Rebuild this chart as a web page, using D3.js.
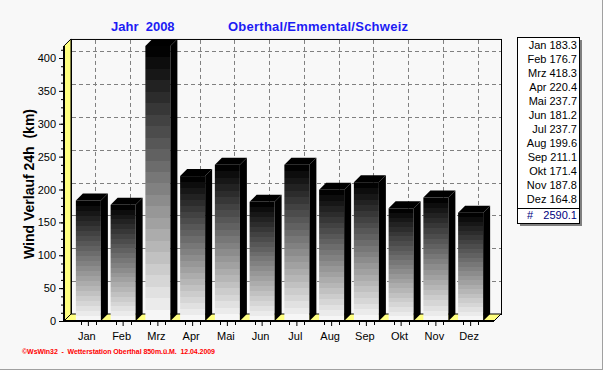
<!DOCTYPE html>
<html>
<head>
<meta charset="utf-8">
<script src="https://cdn.jsdelivr.net/npm/d3@7"></script>
<style>
  html, body { margin:0; padding:0; background:#f8f8f8; }
  svg { display:block; font-family:"Liberation Sans", Arial, sans-serif; }
</style>
</head>
<body>
<svg id="chart" width="603" height="370"></svg>
<script>
// data
const months = ["Jan","Feb","Mrz","Apr","Mai","Jun","Jul","Aug","Sep","Okt","Nov","Dez"];
const values = [183.3,176.7,418.3,220.4,237.7,181.2,237.7,199.6,211.1,171.4,187.8,164.8];
const yTicks = [0,50,100,150,200,250,300,350,400];
const totalLabel = "2590.1";
const titleLeft  = "Jahr  2008";
const titleRight = "Oberthal/Emmental/Schweiz";
const yLabel = "Wind Verlauf 24h  (km)";
const footer = "\u00a9WsWin32  -  Wetterstation Oberthal 850m.\u00fc.M.  12.04.2009";

const svg = d3.select("#chart"),
      W = 603, H = 370,
      D = 7,                       // 3d depth offset
      X0 = 64, X1 = 494,           // front plane
      yBase = 321;

const yellow = "#ffff80";

svg.append("rect").attr("width", W).attr("height", H).attr("fill", "#f8f8f8");
// window edges
svg.append("line").attr("x1", 0).attr("x2", W).attr("y1", H - 0.5).attr("y2", H - 0.5).attr("stroke", "#a0a0a0");
svg.append("line").attr("x1", W - 0.5).attr("x2", W - 0.5).attr("y1", 0).attr("y2", H).attr("stroke", "#a0a0a0");

const x = d3.scaleBand()
    .domain(months)
    .range([71, 488])
    .paddingInner(0.28)
    .paddingOuter(0.14);

const y = d3.scaleLinear()
    .domain([0, 400])
    .range([yBase, 58]);

const bw = x.bandwidth();
const yTop = y(d3.max(values));

// gradient for bar fronts (stepped like the original)
const defs = svg.append("defs");
const grad = defs.append("linearGradient")
    .attr("id", "barGrad")
    .attr("x1", 0).attr("y1", 0).attr("x2", 0).attr("y2", 1);
const steps = 24;
for (let i = 0; i < steps; i++) {
  const g = Math.round(2 + i * (246 - 2) / (steps - 1));
  const c = d3.rgb(g, g, g);
  grad.append("stop").attr("offset", i / steps).attr("stop-color", c);
  grad.append("stop").attr("offset", (i + 1) / steps).attr("stop-color", c);
}

// back wall
svg.append("rect")
    .attr("x", X0 + D + 0.5).attr("y", yTop - D + 0.5)
    .attr("width", X1 - X0).attr("height", yBase - yTop)
    .attr("fill", "#f8f8f8")
    .attr("stroke", "#000");

// grid on back wall
const grid = svg.append("g")
    .attr("stroke", "#808080")
    .attr("stroke-dasharray", "4,3");

grid.selectAll("line.h")
  .data(yTicks.filter(v => v > 0)).enter().append("line")
    .attr("class", "h")
    .attr("x1", X0 + D + 1).attr("x2", X1 + D)
    .attr("y1", d => Math.round(y(d)) - D + 0.5)
    .attr("y2", d => Math.round(y(d)) - D + 0.5);

grid.selectAll("line.v")
  .data(months).enter().append("line")
    .attr("class", "v")
    .attr("x1", d => Math.round(x(d) + bw / 2) + D + 0.5)
    .attr("x2", d => Math.round(x(d) + bw / 2) + D + 0.5)
    .attr("y1", yTop - D + 1).attr("y2", yBase - D);

// left wall
svg.append("polygon")
    .attr("points", [[X0, yBase], [X0, yTop], [X0 + D, yTop - D], [X0 + D, yBase - D]].join(" "))
    .attr("fill", yellow)
    .attr("stroke", "#000")
    .attr("stroke-width", 1);

// floor
svg.append("polygon")
    .attr("points", [[X0, yBase], [X1, yBase], [X1 + D, yBase - D], [X0 + D, yBase - D]].join(" "))
    .attr("fill", yellow)
    .attr("stroke", "#000")
    .attr("stroke-width", 1);

// bars
const bars = svg.append("g").selectAll("g")
  .data(months.map((m, i) => ({ m, v: values[i] })))
  .enter().append("g");

bars.append("rect")
    .attr("x", d => x(d.m))
    .attr("y", d => y(d.v))
    .attr("width", bw)
    .attr("height", d => yBase - y(d.v))
    .attr("fill", "url(#barGrad)");

// side face
bars.append("polygon")
    .attr("points", d => {
      const xr = x(d.m) + bw, yt = y(d.v);
      return [[xr, yt], [xr + D, yt - D], [xr + D, yBase - D], [xr, yBase]].join(" ");
    })
    .attr("fill", "#000");

// top face
bars.append("polygon")
    .attr("points", d => {
      const xl = x(d.m), yt = y(d.v);
      return [[xl, yt], [xl + bw, yt], [xl + bw + D, yt - D], [xl + D, yt - D]].join(" ");
    })
    .attr("fill", "#000");

// axis lines
svg.append("line")
    .attr("x1", X0).attr("x2", X0)
    .attr("y1", yTop).attr("y2", yBase + 1)
    .attr("stroke", "#000").attr("stroke-width", 2);
svg.append("line")
    .attr("x1", X0 - 1).attr("x2", X1)
    .attr("y1", yBase).attr("y2", yBase)
    .attr("stroke", "#000").attr("stroke-width", 2);

// y axis ticks
const yMinor = svg.append("g")
    .attr("transform", `translate(${X0 - 1},0)`)
    .call(d3.axisLeft(y).tickValues(d3.range(0, 413, 12.5)).tickSize(2).tickFormat(""));
yMinor.select(".domain").remove();

const yAxis = svg.append("g")
    .attr("transform", `translate(${X0 - 1},0)`)
    .call(d3.axisLeft(y).tickValues(yTicks).tickSize(4).tickPadding(3));
yAxis.select(".domain").remove();
yAxis.selectAll("text")
    .attr("fill", "#000")
    .style("font-size", "11px")
    .style("font-family", "'Liberation Sans', Arial, sans-serif");

// x axis ticks
const xAxis = svg.append("g")
    .attr("transform", `translate(0,${yBase + 1})`)
    .call(d3.axisBottom(x).tickSize(4).tickPadding(6));
xAxis.select(".domain").remove();
xAxis.selectAll("text")
    .attr("fill", "#000")
    .attr("dx", -1.5)
    .style("font-size", "11px")
    .style("font-family", "'Liberation Sans', Arial, sans-serif");

svg.append("g").selectAll("line")
  .data(months.flatMap(m => [-7.5, 7.5].map(o => ({ m, o })))).enter().append("line")
    .attr("x1", d => Math.round(x(d.m) + bw / 2 + d.o) + 0.5)
    .attr("x2", d => Math.round(x(d.m) + bw / 2 + d.o) + 0.5)
    .attr("y1", yBase + 1).attr("y2", yBase + 4)
    .attr("stroke", "#000");

// y label
svg.append("text")
    .attr("transform", "translate(34,184) rotate(-90)")
    .attr("text-anchor", "middle")
    .style("font-size", "14px")
    .style("font-weight", "bold")
    .style("white-space", "pre")
    .text(yLabel);

// titles
svg.append("text")
    .attr("x", 111).attr("y", 31)
    .attr("fill", "#1c1cf4")
    .style("font-size", "13px")
    .style("font-weight", "bold")
    .style("white-space", "pre")
    .text(titleLeft);
svg.append("text")
    .attr("x", 228).attr("y", 31)
    .attr("fill", "#1c1cf4")
    .style("font-size", "13px")
    .style("font-weight", "bold")
    .attr("textLength", 180)
    .text(titleRight);

// legend box
const lx = 517, ly = 37, lw = 62, lh = 186;
svg.append("rect")
    .attr("x", lx + 3).attr("y", ly + 3).attr("width", lw).attr("height", lh)
    .attr("fill", "#808080");
svg.append("rect")
    .attr("x", lx + 0.5).attr("y", ly + 0.5).attr("width", lw).attr("height", lh)
    .attr("fill", "#fff").attr("stroke", "#000");

svg.append("g").selectAll("text")
  .data(months).enter().append("text")
    .attr("x", lx + lw - 2)
    .attr("y", (d, i) => 49 + i * 14)
    .attr("text-anchor", "end")
    .style("font-size", "11px")
    .text((d, i) => `${d} ${values[i].toFixed(1)}`);

svg.append("line")
    .attr("x1", lx).attr("x2", lx + lw)
    .attr("y1", 208.5).attr("y2", 208.5)
    .attr("stroke", "#000");
svg.append("text")
    .attr("x", lx + 10).attr("y", 219)
    .attr("fill", "#000080")
    .style("font-size", "11px")
    .text("#");
svg.append("text")
    .attr("x", lx + lw - 2).attr("y", 219)
    .attr("text-anchor", "end")
    .attr("fill", "#000080")
    .style("font-size", "11px")
    .text(totalLabel);

// footer
svg.append("text")
    .attr("x", 22).attr("y", 354)
    .attr("fill", "#ff0000")
    .style("font-size", "7px")
    .style("font-weight", "bold")
    .style("white-space", "pre")
    .attr("textLength", 193)
    .attr("lengthAdjust", "spacing")
    .text(footer);
</script>
</body>
</html>
